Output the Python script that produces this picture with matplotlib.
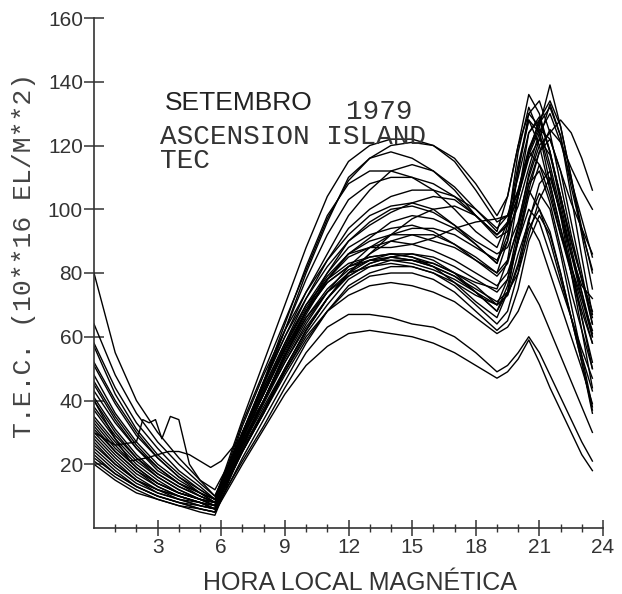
import numpy as np
import matplotlib.pyplot as plt

# ===== hours (magnetic local time) =====
HORAS = [0, 1, 2, 3, 4, 5, 5.7, 7, 8, 9, 10, 11, 12, 13, 14, 15, 16, 17, 18,
         19, 19.5, 20, 20.5, 21, 21.5, 22, 22.5, 23, 23.5]

# ===== daily TEC curves, September 1979 (10**16 el/m**2) =====
d01 = [24, 18, 13, 10, 8, 6, 5, 20, 31, 42, 51, 57, 61, 62, 61, 60, 58, 55, 51, 47, 49, 53, 59, 52, 44, 37, 30, 23, 18]
d02 = [28, 21, 15, 11, 9, 7, 6, 21, 32, 44, 55, 63, 67, 67, 66, 64, 63, 60, 55, 49, 51, 55, 60, 55, 48, 41, 34, 27, 21]
d03 = [34, 26, 19, 14, 11, 9, 7, 24, 36, 49, 60, 68, 73, 76, 77, 76, 74, 71, 66, 61, 63, 68, 76, 70, 62, 54, 46, 38, 30]
d04 = [40, 30, 22, 17, 13, 10, 8, 27, 40, 54, 66, 75, 81, 84, 85, 84, 82, 79, 74, 68, 74, 86, 96, 90, 80, 70, 60, 50, 39]
d05 = [21, 16, 12, 9, 7, 5, 4, 25, 40, 55, 68, 77, 82, 85, 86, 85, 82, 77, 71, 66, 74, 92, 106, 100, 90, 78, 66, 54, 43]
d06 = [48, 36, 27, 20, 15, 11, 8, 27, 40, 54, 66, 74, 79, 83, 85, 84, 82, 79, 75, 71, 74, 80, 92, 103, 110, 99, 83, 66, 50]
d07 = [30, 23, 17, 13, 10, 8, 6, 29, 43, 57, 70, 78, 83, 85, 86, 85, 83, 80, 77, 75, 84, 104, 124, 129, 118, 102, 86, 72, 60]
d08 = [57, 42, 31, 23, 17, 12, 9, 24, 36, 50, 62, 72, 80, 86, 90, 92, 92, 89, 85, 80, 90, 112, 128, 120, 106, 92, 80, 68, 58]
d09 = [38, 29, 22, 16, 12, 9, 7, 30, 44, 58, 70, 80, 88, 92, 94, 95, 93, 89, 84, 79, 83, 95, 111, 122, 133, 123, 104, 85, 67]
d10 = [64, 48, 36, 27, 20, 14, 10, 29, 43, 57, 69, 79, 86, 91, 96, 98, 97, 94, 89, 83, 95, 118, 132, 124, 108, 94, 82, 70, 58]
d11 = [25, 19, 14, 11, 9, 8, 7, 32, 48, 62, 74, 84, 92, 98, 101, 102, 100, 95, 89, 83, 92, 112, 130, 134, 124, 108, 92, 78, 64]
d12 = [80, 55, 40, 30, 22, 15, 10, 30, 45, 60, 72, 82, 90, 95, 99, 102, 104, 103, 98, 91, 93, 101, 113, 124, 130, 121, 109, 97, 85]
d13 = [33, 25, 19, 14, 11, 9, 8, 33, 49, 65, 81, 97, 109, 116, 120, 121, 120, 116, 108, 98, 104, 120, 136, 130, 118, 104, 90, 78, 66]
d14 = [43, 33, 25, 18, 14, 11, 9, 34, 52, 70, 88, 104, 115, 120, 122, 122, 120, 115, 106, 96, 98, 106, 118, 126, 139, 126, 110, 92, 75]
d15 = [27, 20, 15, 12, 10, 8, 7, 30, 46, 60, 74, 86, 98, 106, 112, 114, 112, 107, 100, 93, 104, 120, 130, 126, 114, 100, 86, 74, 61]
d16 = [51, 39, 29, 22, 16, 12, 9, 30, 46, 62, 78, 92, 103, 108, 110, 110, 108, 104, 98, 92, 96, 106, 119, 127, 132, 123, 107, 93, 81]
d17 = [31, 24, 18, 14, 11, 9, 8, 28, 42, 56, 68, 78, 86, 90, 92, 92, 90, 88, 84, 80, 84, 94, 108, 118, 125, 121, 113, 106, 100]
d18 = [37, 28, 21, 16, 12, 9, 8, 26, 38, 50, 62, 72, 80, 84, 86, 86, 84, 80, 74, 68, 76, 90, 100, 96, 86, 76, 66, 56, 47]
d19 = [20, 15, 11, 9, 7, 6, 5, 22, 34, 46, 58, 68, 76, 80, 82, 82, 80, 76, 70, 64, 68, 80, 96, 108, 112, 98, 80, 62, 44]
d20 = [46, 35, 26, 19, 14, 11, 9, 30, 44, 58, 72, 84, 94, 100, 104, 106, 106, 104, 100, 94, 98, 110, 124, 128, 118, 104, 88, 74, 60]
d21 = [41, 31, 23, 17, 13, 10, 8, 25, 37, 49, 61, 70, 78, 82, 84, 84, 83, 80, 76, 70, 78, 94, 108, 112, 102, 88, 74, 62, 50]
d22 = [22, 17, 13, 10, 8, 7, 6, 28, 45, 62, 80, 96, 110, 116, 118, 116, 112, 106, 98, 92, 95, 104, 116, 122, 117, 104, 90, 78, 68]
d23 = [35, 27, 20, 15, 11, 9, 7, 27, 40, 54, 67, 78, 86, 88, 88, 89, 91, 94, 96, 97, 98, 105, 118, 128, 134, 126, 110, 94, 80]
d24 = [26, 20, 15, 12, 9, 7, 6, 24, 37, 50, 62, 72, 80, 86, 92, 97, 100, 101, 98, 92, 95, 104, 117, 125, 122, 112, 102, 94, 86]
d25 = [58, 44, 33, 25, 18, 13, 9, 27, 40, 53, 65, 74, 80, 82, 83, 82, 80, 77, 73, 70, 73, 83, 97, 105, 100, 86, 70, 54, 38]
d26 = [32, 24, 18, 13, 10, 8, 6, 26, 40, 54, 68, 80, 90, 96, 100, 101, 99, 95, 90, 86, 88, 96, 110, 120, 124, 128, 124, 116, 106]
d27 = [45, 34, 25, 19, 14, 10, 8, 28, 42, 56, 68, 77, 82, 84, 84, 83, 81, 78, 74, 70, 73, 82, 94, 100, 93, 80, 66, 52, 37]
d28 = [23, 17, 13, 10, 8, 6, 5, 29, 46, 64, 82, 98, 108, 112, 112, 110, 106, 100, 93, 88, 96, 114, 128, 124, 112, 98, 86, 76, 72]
d29 = [52, 40, 30, 22, 16, 11, 8, 26, 39, 52, 64, 74, 82, 88, 92, 94, 94, 92, 88, 84, 90, 104, 118, 114, 104, 92, 82, 72, 62]
d30 = [29, 22, 16, 12, 10, 8, 6, 24, 36, 48, 59, 68, 75, 79, 80, 80, 78, 74, 68, 62, 65, 75, 90, 98, 92, 80, 66, 52, 36]

DIAS = [d01, d02, d03, d04, d05, d06, d07, d08, d09, d10, d11, d12, d13, d14, d15,
        d16, d17, d18, d19, d20, d21, d22, d23, d24, d25, d26, d27, d28, d29, d30]

# two nights with irregular behaviour, sampled more finely
HORAS_A = [0, 1, 2, 2.3, 2.6, 2.9, 3.2, 3.6, 4.0, 4.5, 5, 5.7, 7, 8, 9, 10, 11, 12, 13, 14,
           15, 16, 17, 18, 19, 19.5, 20, 20.5, 21, 21.5, 22, 22.5, 23, 23.5]
irr_a = [30, 26, 27, 34, 33, 34, 28, 35, 34, 20, 15, 12, 28, 42, 56, 68, 78, 85, 88, 90,
         89, 87, 84, 80, 76, 80, 90, 106, 118, 122, 112, 96, 80, 64]
HORAS_B = [0, 1, 1.7, 2.5, 3, 3.5, 4, 4.5, 5, 5.5, 6, 7, 8, 9, 10, 11, 12, 13, 14,
           15, 16, 17, 18, 19, 19.5, 20, 20.5, 21, 21.5, 22, 22.5, 23, 23.5]
irr_b = [40, 28, 21, 22, 23, 24, 24, 23, 21, 19, 21, 29, 40, 52, 63, 72, 79, 83, 85,
         86, 85, 82, 78, 74, 78, 90, 104, 114, 108, 94, 80, 66, 52]

TICKS_X = [3, 6, 9, 12, 15, 18, 21, 24]
TICKS_Y = [20, 40, 60, 80, 100, 120, 140, 160]

fig = plt.figure(figsize=(6.22, 5.94), dpi=100)
ax = fig.add_axes([94 / 622, 66 / 594, 509 / 622, 510 / 594])

for dia in DIAS:
    ax.plot(HORAS, dia, color='black', lw=1.0)
ax.plot(HORAS_A, irr_a, color='black', lw=1.0)
ax.plot(HORAS_B, irr_b, color='black', lw=1.0)

ax.set_xlim(0, 24)
ax.set_ylim(0, 160)
ax.spines['top'].set_visible(False)
ax.spines['right'].set_visible(False)
for s in ('left', 'bottom'):
    ax.spines[s].set_color('#333333')
    ax.spines[s].set_linewidth(1.2)

ax.set_xticks(TICKS_X)
ax.set_xticks(range(1, 24), minor=True)
ax.set_yticks(TICKS_Y)
ax.tick_params(axis='x', which='major', direction='inout', length=12, width=1.1,
               color='#333333', pad=1)
ax.tick_params(axis='x', which='minor', direction='inout', length=6, width=1.0,
               color='#333333')
ax.tick_params(axis='y', direction='inout', length=14, width=1.1, color='#333333', pad=1)
for lab in ax.get_xticklabels() + ax.get_yticklabels():
    lab.set_family('Liberation Sans')
    lab.set_fontsize(15)
    lab.set_color('#333333')

mono = 'Liberation Mono'
ax.text(3.35, 131.2, 'SETEMBRO', family='Liberation Sans', fontsize=19, color='#222222')
ax.text(11.86, 128.4, '1979', family=mono, fontsize=20, color='#333333')
ax.text(3.12, 120.6, 'ASCENSION ISLAND', family=mono, fontsize=20, color='#333333')
ax.text(3.12, 112.8, 'TEC', family=mono, fontsize=20, color='#333333')

fig.text(24 / 622, 1 - 255 / 594, 'T.E.C. (10**16 EL/M**2)', rotation=90,
         ha='center', va='center', family=mono, fontsize=19, color='#444444')
fig.text(360 / 622, 1 - 590 / 594, 'HORA LOCAL MAGNÉTICA', ha='center', va='baseline',
         family='Liberation Sans', fontsize=18, color='#333333')

fig.savefig('out.png', dpi=100)
